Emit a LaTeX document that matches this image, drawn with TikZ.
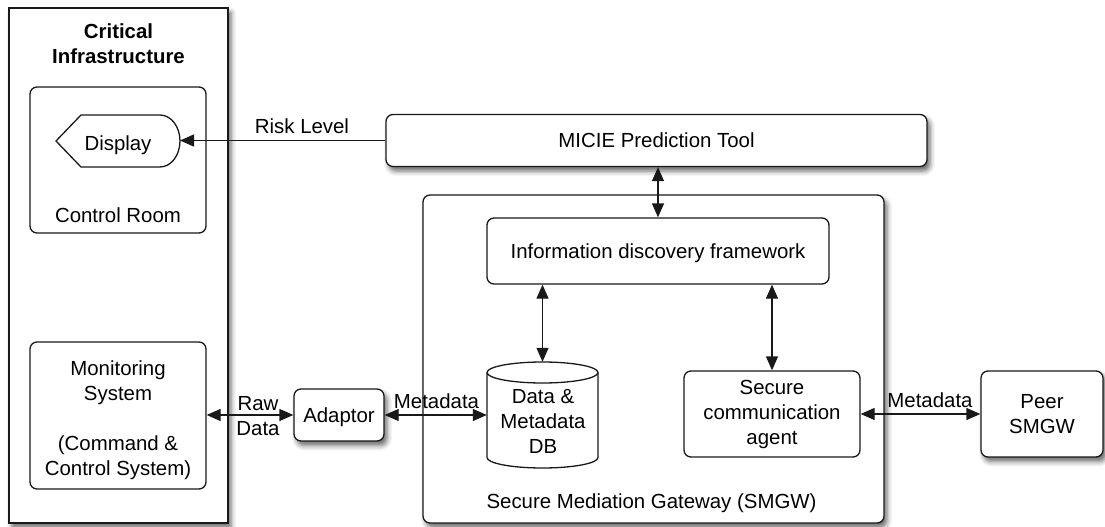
\documentclass[tikz,border=0pt]{standalone}
\usepackage{fontspec}
\setmainfont{Liberation Sans}
\usetikzlibrary{arrows.meta,shadows.blur}
\begin{document}
\begin{tikzpicture}[x=1pt,y=-1pt,
  every node/.style={font=\fontsize{20.4}{25}\selectfont, inner sep=0pt, text=black},
  outline/.style={draw=black!90, line width=1.3pt},
  box/.style={outline, fill=white, rounded corners=7pt},
  castshadow/.style={blur shadow={shadow xshift=3pt, shadow yshift=-4.5pt,
      shadow blur radius=5pt, shadow opacity=60}},
  capline/.style={text height=14.6pt, text depth=0pt},
  headtip/.tip={Triangle[length=14pt,width=12pt]},
  link/.style={line width=1.3pt, draw=black!90, headtip-headtip},
  feed/.style={line width=1.3pt, draw=black!90, -headtip}
]
\useasboundingbox (0,0) rectangle (1105,527);

% Critical infrastructure site
\node[outline, fill=white, castshadow, minimum width=219pt, minimum height=515pt] (ci) at (118.5,265.5) {};
\node[font=\fontsize{20.4}{25}\selectfont\bfseries, align=center] (ci-title) at (118.5,43.5) {Critical\\Infrastructure};

% Control room with its display
\node[box, minimum width=176pt, minimum height=146pt] (room) at (118,160) {};
\node[capline] (room-label) at (118,215) {Control Room};
\draw[outline, fill=white] (56,141) -- (81,115) -- (160,115)
  arc[start angle=90, end angle=-90, x radius=20pt, y radius=26pt] -- (81,167) -- cycle;
\node[capline] (display) at (118,143) {Display};
\coordinate (display-tip) at (180,141);

% Monitoring system
\node[box, minimum width=176pt, minimum height=147pt] (mon) at (118,415.5) {};
\node[align=center] (mon-text) at (118,420.5) {Monitoring\\System\\[25pt](Command \&\\Control System)};

% Adaptor
\node[box, castshadow, capline, minimum width=90pt, minimum height=52pt] (adaptor) at (339,415) {Adaptor};

% Prediction tool
\node[box, castshadow, capline, minimum width=541pt, minimum height=52pt] (micie) at (656.5,140.5) {MICIE Prediction Tool};

% Secure mediation gateway
\node[box, castshadow, minimum width=461pt, minimum height=328pt] (smgw) at (653.5,359) {};
\node[capline] (smgw-label) at (651.5,501) {Secure Mediation Gateway (SMGW)};
\node[box, capline, minimum width=342pt, minimum height=66pt] (idf) at (658,251) {Information discovery framework};
\node[box, align=center, minimum width=176pt, minimum height=86pt] (sca) at (772,414) {Secure\\communication\\agent};

% Database cylinder
\node[minimum width=111pt, minimum height=106pt] (db) at (542.5,415) {};
\draw[outline, fill=white] (487,372.5) -- (487,457.5)
  arc[start angle=180, end angle=360, x radius=55.5pt, y radius=10.5pt] -- (598,372.5);
\draw[outline, fill=white] (542.5,372.5) ellipse[x radius=55.5pt, y radius=10.5pt];
\node[align=center] (db-text) at (543,421) {Data \&\\Metadata\\DB};

% Peer gateway
\node[box, castshadow, align=center, minimum width=122pt, minimum height=86pt] (peer) at (1042,414) {Peer\\SMGW};

% Connectors
\draw[feed] (micie.west) -- (micie.west -| display-tip);
\node[capline] (risk-label) at (302,126) {Risk Level};

\draw[link] (idf.north |- micie.south) -- (idf.north);
\draw[link] (db.north |- idf.south) -- (db.north);
\draw[link] (sca.north |- idf.south) -- (sca.north);

\draw[link] (adaptor.west -| mon.east) -- (adaptor.west);
\node[align=center] (raw-label) at (258,416) {Raw\\Data};

\draw[link] (adaptor.east) -- (adaptor.east -| db.west);
\node[capline] (meta-label) at (436.5,401) {Metadata};

\draw[link] (sca.east) -- (peer.west);
\node[capline] (peer-meta-label) at (930,400.5) {Metadata};
\end{tikzpicture}
\end{document}
